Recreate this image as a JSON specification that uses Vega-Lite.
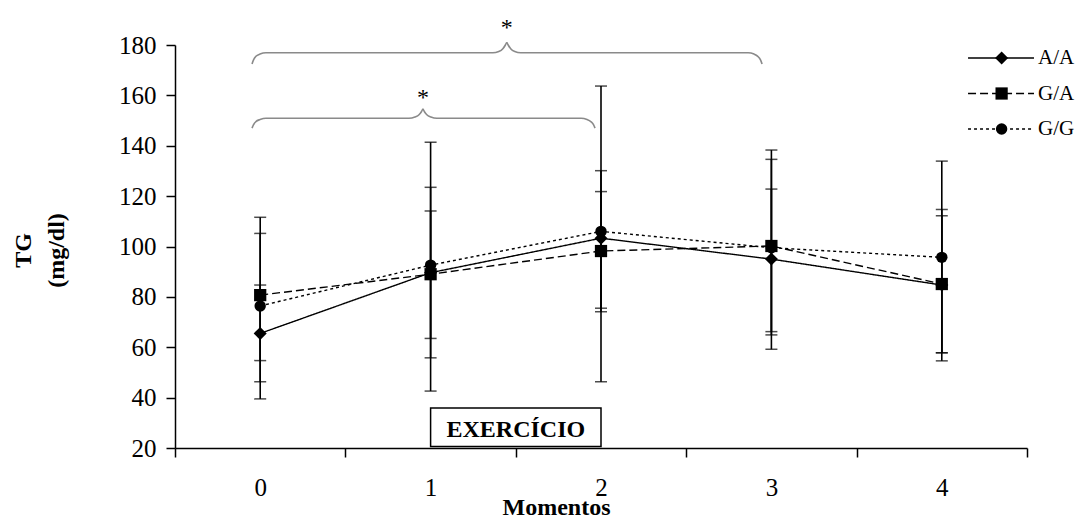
{
  "$schema": "https://vega.github.io/schema/vega-lite/v6.json",
  "width": 852,
  "height": 403,
  "autosize": {"type": "none"},
  "padding": {"left": 175, "top": 45, "right": 59, "bottom": 71},
  "background": "white",
  "config": {
    "view": {"stroke": null},
    "font": "Liberation Serif",
    "text": {"font": "Liberation Serif", "color": "black"}
  },
  "datasets": {
    "tg": [
      {"momento": 0, "genotipo": "A/A", "media": 65.5, "inf": 46.3, "sup": 84.7},
      {"momento": 0, "genotipo": "G/A", "media": 80.7, "inf": 54.7, "sup": 105.2},
      {"momento": 0, "genotipo": "G/G", "media": 76.4, "inf": 39.5, "sup": 111.6},
      {"momento": 1, "genotipo": "A/A", "media": 89.6, "inf": 55.8, "sup": 123.5},
      {"momento": 1, "genotipo": "G/A", "media": 89.0, "inf": 63.5, "sup": 114.1},
      {"momento": 1, "genotipo": "G/G", "media": 92.6, "inf": 42.6, "sup": 141.4},
      {"momento": 2, "genotipo": "A/A", "media": 103.3, "inf": 75.5, "sup": 130.1},
      {"momento": 2, "genotipo": "G/A", "media": 98.2, "inf": 74.1, "sup": 121.8},
      {"momento": 2, "genotipo": "G/G", "media": 106.0, "inf": 46.3, "sup": 163.7},
      {"momento": 3, "genotipo": "A/A", "media": 95.0, "inf": 66.2, "sup": 122.8},
      {"momento": 3, "genotipo": "G/A", "media": 100.2, "inf": 64.9, "sup": 134.6},
      {"momento": 3, "genotipo": "G/G", "media": 99.5, "inf": 59.2, "sup": 138.3},
      {"momento": 4, "genotipo": "A/A", "media": 84.7, "inf": 54.6, "sup": 114.7},
      {"momento": 4, "genotipo": "G/A", "media": 85.1, "inf": 57.8, "sup": 112.2},
      {"momento": 4, "genotipo": "G/G", "media": 95.7, "inf": 57.8, "sup": 133.9}
    ],
    "chaves": [
      {"parte": "m0-3 esq", "x": -0.048, "y": 172.5},
      {"parte": "m0-3 esq", "x": -0.039, "y": 174.1},
      {"parte": "m0-3 esq", "x": -0.025, "y": 175.5},
      {"parte": "m0-3 esq", "x": -0.001, "y": 176.4},
      {"parte": "m0-3 esq", "x": 0.034, "y": 176.9},
      {"parte": "m0-3 esq", "x": 1.365, "y": 176.9},
      {"parte": "m0-3 esq", "x": 1.4, "y": 177.4},
      {"parte": "m0-3 esq", "x": 1.424, "y": 178.5},
      {"parte": "m0-3 esq", "x": 1.438, "y": 179.9},
      {"parte": "m0-3 esq", "x": 1.447, "y": 181.1},
      {"parte": "m0-3 dir", "x": 1.447, "y": 181.1},
      {"parte": "m0-3 dir", "x": 1.456, "y": 179.9},
      {"parte": "m0-3 dir", "x": 1.47, "y": 178.5},
      {"parte": "m0-3 dir", "x": 1.494, "y": 177.4},
      {"parte": "m0-3 dir", "x": 1.529, "y": 176.9},
      {"parte": "m0-3 dir", "x": 2.863, "y": 176.9},
      {"parte": "m0-3 dir", "x": 2.898, "y": 176.4},
      {"parte": "m0-3 dir", "x": 2.92, "y": 175.5},
      {"parte": "m0-3 dir", "x": 2.936, "y": 174.1},
      {"parte": "m0-3 dir", "x": 2.945, "y": 172.5},
      {"parte": "m0-2 esq", "x": -0.048, "y": 147.0},
      {"parte": "m0-2 esq", "x": -0.039, "y": 148.4},
      {"parte": "m0-2 esq", "x": -0.025, "y": 149.6},
      {"parte": "m0-2 esq", "x": -0.001, "y": 150.4},
      {"parte": "m0-2 esq", "x": 0.034, "y": 150.9},
      {"parte": "m0-2 esq", "x": 0.873, "y": 150.9},
      {"parte": "m0-2 esq", "x": 0.908, "y": 151.4},
      {"parte": "m0-2 esq", "x": 0.932, "y": 152.3},
      {"parte": "m0-2 esq", "x": 0.946, "y": 153.5},
      {"parte": "m0-2 esq", "x": 0.955, "y": 154.7},
      {"parte": "m0-2 dir", "x": 0.955, "y": 154.7},
      {"parte": "m0-2 dir", "x": 0.964, "y": 153.5},
      {"parte": "m0-2 dir", "x": 0.978, "y": 152.3},
      {"parte": "m0-2 dir", "x": 1.002, "y": 151.4},
      {"parte": "m0-2 dir", "x": 1.037, "y": 150.9},
      {"parte": "m0-2 dir", "x": 1.883, "y": 150.9},
      {"parte": "m0-2 dir", "x": 1.918, "y": 150.4},
      {"parte": "m0-2 dir", "x": 1.94, "y": 149.6},
      {"parte": "m0-2 dir", "x": 1.956, "y": 148.4},
      {"parte": "m0-2 dir", "x": 1.965, "y": 147.0}
    ],
    "significancia": [
      {"x": 1.447, "y": 183.8, "rotulo": "*"},
      {"x": 0.955, "y": 156.0, "rotulo": "*"}
    ],
    "fase": [
      {"inicio": 1, "fim": 2, "meio": 1.5, "base": 20.6, "topo": 35.9, "texto_y": 24.2, "rotulo": "EXERCÍCIO"}
    ]
  },
  "layer": [
    {
      "layer": [
        {
          "data": {"name": "tg"},
          "mark": {"type": "rule", "color": "black", "strokeWidth": 1.6},
          "encoding": {
            "x": {
              "field": "momento",
              "type": "quantitative",
              "scale": {"domain": [-0.5, 4.5], "nice": false, "zero": false},
              "axis": {
                "values": [-0.5, 0, 0.5, 1, 1.5, 2, 2.5, 3, 3.5, 4, 4.5],
                "labelExpr": "datum.value % 1 === 0 ? '' + datum.value : ''",
                "tickOpacity": {"condition": {"test": "datum.value % 1 === 0", "value": 0}, "value": 1},
                "grid": false,
                "tickSize": 9,
                "tickWidth": 1.5,
                "tickColor": "black",
                "domainColor": "black",
                "domainWidth": 1.5,
                "labelFont": "Liberation Serif",
                "labelFontSize": 25,
                "labelColor": "black",
                "labelBaseline": "alphabetic",
                "labelPadding": 38.5,
                "labelFlush": false,
                "labelOverlap": false,
                "title": "Momentos",
                "titleFont": "Liberation Serif",
                "titleFontSize": 24,
                "titleFontWeight": "bold",
                "titleColor": "black",
                "titleX": 381,
                "titleY": 66.5,
                "titleAlign": "center",
                "titleBaseline": "alphabetic"
              }
            },
            "y": {
              "field": "inf",
              "type": "quantitative",
              "scale": {"domain": [20, 180], "nice": false, "zero": false},
              "axis": {
                "values": [20, 40, 60, 80, 100, 120, 140, 160, 180],
                "grid": false,
                "tickSize": 9,
                "tickWidth": 1.5,
                "tickColor": "black",
                "domainColor": "black",
                "domainWidth": 1.5,
                "labelFont": "Liberation Serif",
                "labelFontSize": 25,
                "labelColor": "black",
                "labelPadding": 10,
                "labelFlush": false,
                "labelOverlap": false,
                "title": ["TG", "(mg/dl)"],
                "titleFont": "Liberation Serif",
                "titleFontSize": 24,
                "titleFontWeight": "bold",
                "titleColor": "black",
                "titleAngle": -90,
                "titleX": -152,
                "titleY": 205,
                "titleAlign": "center",
                "titleBaseline": "middle",
                "titleLineHeight": 33
              }
            },
            "y2": {"field": "sup"}
          }
        },
        {
          "data": {"name": "tg"},
          "transform": [{"fold": ["inf", "sup"], "as": ["ponta", "valor"]}],
          "mark": {"type": "tick", "orient": "horizontal", "color": "black", "size": 12, "thickness": 1.5},
          "encoding": {
            "x": {"field": "momento", "type": "quantitative"},
            "y": {"field": "valor", "type": "quantitative"}
          }
        },
        {
          "data": {"name": "tg"},
          "mark": {"type": "line", "color": "black", "strokeWidth": 1.4},
          "encoding": {
            "x": {"field": "momento", "type": "quantitative"},
            "y": {"field": "media", "type": "quantitative"},
            "detail": {"field": "genotipo"},
            "strokeDash": {
              "field": "genotipo",
              "type": "nominal",
              "scale": {"domain": ["A/A", "G/A", "G/G"], "range": [[1, 0], [8, 4], [3, 3]]},
              "legend": null
            }
          }
        },
        {
          "data": {"name": "tg"},
          "mark": {"type": "point", "filled": true, "color": "black", "opacity": 1},
          "encoding": {
            "x": {"field": "momento", "type": "quantitative"},
            "y": {"field": "media", "type": "quantitative"},
            "shape": {
              "field": "genotipo",
              "type": "nominal",
              "scale": {"domain": ["A/A", "G/A", "G/G"], "range": ["diamond", "square", "circle"]},
              "legend": null
            },
            "size": {
              "field": "genotipo",
              "type": "ordinal",
              "scale": {"domain": ["A/A", "G/A", "G/G"], "range": [170, 130, 140]},
              "legend": null
            }
          }
        },
        {
          "data": {"name": "chaves"},
          "mark": {"type": "line", "color": "#8a8a8a", "strokeWidth": 1.6, "interpolate": "monotone"},
          "encoding": {
            "x": {"field": "x", "type": "quantitative"},
            "y": {"field": "y", "type": "quantitative"},
            "detail": {"field": "parte"}
          }
        },
        {
          "data": {"name": "significancia"},
          "mark": {"type": "text", "fontSize": 24, "align": "center", "baseline": "alphabetic", "color": "black"},
          "encoding": {
            "x": {"field": "x", "type": "quantitative"},
            "y": {"field": "y", "type": "quantitative"},
            "text": {"field": "rotulo"}
          }
        },
        {
          "data": {"name": "fase"},
          "mark": {"type": "rect", "fill": "white", "stroke": "black", "strokeWidth": 1.5},
          "encoding": {
            "x": {"field": "inicio", "type": "quantitative"},
            "x2": {"field": "fim"},
            "y": {"field": "base", "type": "quantitative"},
            "y2": {"field": "topo"}
          }
        },
        {
          "data": {"name": "fase"},
          "mark": {"type": "text", "fontSize": 24, "fontWeight": "bold", "align": "center", "baseline": "alphabetic", "color": "black"},
          "encoding": {
            "x": {"field": "meio", "type": "quantitative"},
            "y": {"field": "texto_y", "type": "quantitative"},
            "text": {"field": "rotulo"}
          }
        }
      ]
    },
    {
      "data": {"name": "tg"},
      "transform": [{"filter": "datum.momento == 0"}],
      "encoding": {
        "y": {
          "field": "genotipo",
          "type": "nominal",
          "scale": {"type": "point", "domain": ["A/A", "G/A", "G/G"], "range": [13, 84], "padding": 0},
          "axis": null
        }
      },
      "layer": [
        {
          "mark": {"type": "rule", "color": "black", "strokeWidth": 1.4},
          "encoding": {
            "x": {"datum": 4.154},
            "x2": {"datum": 4.541},
            "strokeDash": {"field": "genotipo", "type": "nominal", "legend": null}
          }
        },
        {
          "mark": {"type": "point", "filled": true, "color": "black", "opacity": 1},
          "encoding": {
            "x": {"datum": 4.351},
            "shape": {"field": "genotipo", "type": "nominal", "legend": null},
            "size": {"field": "genotipo", "type": "ordinal", "legend": null}
          }
        },
        {
          "mark": {"type": "text", "fontSize": 21, "align": "left", "baseline": "middle", "color": "black"},
          "encoding": {
            "x": {"datum": 4.565},
            "text": {"field": "genotipo"}
          }
        }
      ]
    }
  ],
  "resolve": {"scale": {"y": "independent"}}
}
